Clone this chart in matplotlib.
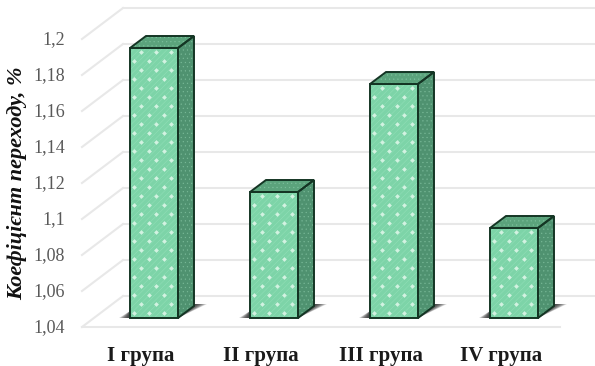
import matplotlib.pyplot as plt
import numpy as np
from matplotlib.patches import Polygon

grupy = ['I група', 'II група', 'III група', 'IV група']
koeficient = [1.19, 1.11, 1.17, 1.09]
rivni = [1.04, 1.06, 1.08, 1.10, 1.12, 1.14, 1.16, 1.18, 1.20]
rivni_podpysy = ['1,04', '1,06', '1,08', '1,1', '1,12', '1,14', '1,16', '1,18', '1,2']

# one x unit is 120 px, one y unit is 1800 px
PX_X = 1 / 120
PX_Y = 1 / 1800
BAZA = 1.04
SHYRYNA = 48 * PX_X
GLYB_X = 16 * PX_X
GLYB_Y = 12 * PX_Y

KOLIR_PEREDU = '#7dd4a8'
KOLIR_BOKU = '#4f9270'
KOLIR_VERHU = '#5ba37c'
KOLIR_KONTURU = '#143524'
KOLIR_SITKY = '#e8e8e8'

plt.rcParams['font.family'] = ['Liberation Serif', 'DejaVu Serif']
plt.rcParams['hatch.linewidth'] = 0.35

fig = plt.figure(figsize=(5.95, 3.66), dpi=100)
ax = fig.add_axes([0, 0, 1, 1])
ax.set_xlim(-154 * PX_X, 441 * PX_X)
ax.set_ylim(BAZA - 48 * PX_Y, BAZA + 318 * PX_Y)
ax.axis('off')

# walls of the 3d box: slanted side lines and lines on the back
x_pered = -72 * PX_X
x_zad = -31 * PX_X
for riven, podpys in zip(rivni, rivni_podpysy):
    y_pered = riven - 9 * PX_Y
    y_zad = riven + 22 * PX_Y
    ax.plot([x_pered, x_zad], [y_pered, y_zad], color=KOLIR_SITKY, lw=1.5, zorder=1)
    ax.plot([x_zad, 441 * PX_X], [y_zad, y_zad], color=KOLIR_SITKY, lw=1.5, zorder=1)
    ax.text(-89 * PX_X, y_pered - 1 * PX_Y, podpys, ha='right', va='center',
            fontsize=13, color='#595959')
ax.plot([x_pered, 406 * PX_X], [BAZA - 9 * PX_Y] * 2, color=KOLIR_SITKY, lw=1.5, zorder=1)


def tin(x0, x1):
    # soft shadow on the floor, built up from stacked transparent shapes
    for krok in np.linspace(0, 1, 10):
        livo = x0 - (1 + 10 * krok) * PX_X
        pravo = x1 + GLYB_X + (1 + 12 * krok) * PX_X
        verh_tini = BAZA + GLYB_Y + 2 * PX_Y
        ax.add_patch(Polygon([(livo, BAZA), (x1, BAZA), (pravo, verh_tini),
                              (x1 + GLYB_X, verh_tini), (x0, BAZA + 7 * PX_Y)],
                             closed=True, fc='#202020', ec='none', alpha=0.17, zorder=2))


def stovpchyk(x, znach):
    x0 = x - SHYRYNA / 2
    x1 = x + SHYRYNA / 2
    tin(x0, x1)

    pered = [(x0, BAZA), (x1, BAZA), (x1, znach), (x0, znach)]
    bik = [(x1, BAZA), (x1 + GLYB_X, BAZA + GLYB_Y),
           (x1 + GLYB_X, znach + GLYB_Y), (x1, znach)]
    verh = [(x0, znach), (x1, znach), (x1 + GLYB_X, znach + GLYB_Y),
            (x0 + GLYB_X, znach + GLYB_Y)]

    pered_p = Polygon(pered, closed=True, fc=KOLIR_PEREDU, ec='#93dfb9', hatch='//////', lw=0, zorder=3)
    ax.add_patch(pered_p)
    ax.add_patch(Polygon(bik, closed=True, fc=KOLIR_BOKU, ec='#78b897', hatch='....', lw=0, zorder=3))
    ax.add_patch(Polygon(verh, closed=True, fc=KOLIR_VERHU, ec='#7cc09c', hatch='....', lw=0, zorder=3))

    # staggered light dots on the front face
    riady = np.arange(BAZA + 5 * PX_Y, znach, 9 * PX_Y)
    for i, y in enumerate(riady):
        zsuv = 7.5 * PX_X if i % 2 else 0
        xs = np.arange(x0 + 4 * PX_X + zsuv, x1, 15 * PX_X)
        tochky = ax.scatter(xs, [y] * len(xs), s=6, marker='D', color='#d2f2e1',
                            linewidths=0, zorder=4)
        tochky.set_clip_path(pered_p)

    for gran in (pered, bik, verh):
        ax.add_patch(Polygon(gran, closed=True, fc='none', ec=KOLIR_KONTURU,
                             lw=1.4, joinstyle='miter', zorder=5))


for i, (nazva, znach) in enumerate(zip(grupy, koeficient)):
    stovpchyk(i, znach)
    ax.text(i - 13 * PX_X, BAZA - 38.5 * PX_Y, nazva, ha='center', va='center',
            fontsize=15, fontweight='bold', color='#1a1a1a')

ax.text(-137 * PX_X, BAZA + 135 * PX_Y, 'Коефіцієнт переходу, %', rotation=90,
        ha='center', va='center', fontsize=16, fontweight='bold', style='italic',
        color='#111111')

fig.savefig('out.png', dpi=100)
